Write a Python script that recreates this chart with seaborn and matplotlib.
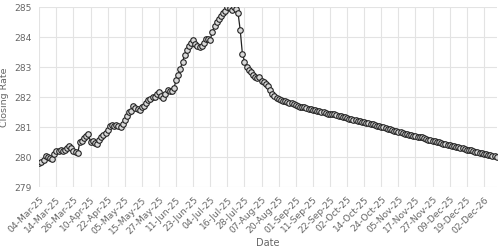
import matplotlib
matplotlib.use("Agg")
import matplotlib.pyplot as plt
import seaborn as sns
import pandas as pd
import numpy as np

tick_labels = ["04-Mar-25", "14-Mar-25", "26-Mar-25", "10-Apr-25", "22-Apr-25", "05-May-25",
               "15-May-25", "27-May-25", "11-Jun-25", "23-Jun-25", "04-Jul-25", "16-Jul-25",
               "28-Jul-25", "07-Aug-25", "20-Aug-25", "01-Sep-25", "11-Sep-25", "22-Sep-25",
               "02-Oct-25", "14-Oct-25", "24-Oct-25", "05-Nov-25", "17-Nov-25", "27-Nov-25",
               "09-Dec-25", "19-Dec-25", "02-Dec-26"]

rate_spring = [279.80, 279.85, 279.90, 280.05, 280.02, 279.98, 279.96, 280.12, 280.20, 280.22,
               280.25, 280.22, 280.26, 280.30, 280.38, 280.32, 280.22, 280.16, 280.14, 280.52,
               280.54, 280.64, 280.72, 280.78, 280.50, 280.56, 280.48, 280.46, 280.58, 280.68,
               280.74, 280.82, 280.92, 281.05, 281.08, 281.06, 281.08, 281.04, 281.00, 281.12,
               281.25, 281.38, 281.50, 281.56, 281.70, 281.64, 281.60, 281.58, 281.66, 281.70,
               281.80, 281.90, 281.95, 282.02, 282.00, 282.10, 282.19, 282.05, 281.97, 282.10,
               282.24, 282.20, 282.22, 282.30]
rate_summer = [282.58, 282.74, 282.96, 283.19, 283.41, 283.58, 283.70, 283.80, 283.90, 283.78,
               283.72, 283.68, 283.72, 283.82, 283.94, 283.96, 283.92, 284.19, 284.38, 284.50,
               284.60, 284.72, 284.80, 284.88, 285.00, 284.98, 284.91, 285.00, 284.96, 284.80,
               284.24, 283.46, 283.19, 283.02, 282.92, 282.85, 282.74, 282.67, 282.64, 282.69,
               282.55, 282.50, 282.46, 282.36, 282.24, 282.12, 282.04]
rate_autumn = [281.97, 281.94, 281.92, 281.89, 281.87, 281.85, 281.82, 281.80, 281.77, 281.75,
               281.72, 281.69, 281.68, 281.66, 281.64, 281.62, 281.61, 281.59, 281.57, 281.55,
               281.53, 281.52, 281.50, 281.48, 281.46, 281.44, 281.44, 281.45, 281.42, 281.39,
               281.37, 281.35, 281.33, 281.31, 281.28, 281.27, 281.25, 281.23, 281.22, 281.20,
               281.18, 281.16, 281.15, 281.13, 281.11, 281.10, 281.08, 281.06, 281.04, 281.02,
               281.00, 280.98, 280.95, 280.93, 280.91, 280.89, 280.87, 280.85, 280.83, 280.81,
               280.79, 280.77, 280.76, 280.74, 280.72, 280.70, 280.69, 280.69, 280.66, 280.63,
               280.61, 280.59, 280.57, 280.55, 280.53, 280.51, 280.50, 280.48, 280.46, 280.44,
               280.42, 280.41, 280.39, 280.37, 280.35, 280.33, 280.31, 280.30, 280.28, 280.26,
               280.24, 280.23, 280.21, 280.19, 280.17, 280.15, 280.14, 280.12, 280.10, 280.09,
               280.07, 280.05, 280.04, 280.02]

rates = rate_spring + rate_summer + rate_autumn
df = pd.DataFrame({"idx": np.arange(len(rates)), "rate": rates})

sns.set_theme(style="whitegrid")
plt.rcParams['font.family'] = ['DejaVu Sans']

fig = plt.figure(figsize=(5, 2.5), dpi=100)
ax = fig.add_axes([0.0786, 0.2508, 0.9148, 0.7200])

sns.lineplot(data=df, x="idx", y="rate", ax=ax, color="#222222", linewidth=0.9,
             marker="o", markersize=4.0, markerfacecolor="#d9d9d9",
             markeredgecolor="#222222", markeredgewidth=0.8)

ax.set_xlim(0, len(rates) - 1)
ax.set_ylim(279, 285)
ax.set_yticks([279, 280, 281, 282, 283, 284, 285])
step = 8
ax.set_xticks(np.arange(0, step * len(tick_labels), step))
ax.set_xticklabels(tick_labels, rotation=45, ha="right", rotation_mode="anchor")

grid_c = "#e3e3e3"
ax.grid(True, color=grid_c, linewidth=0.8)
for s in ax.spines.values():
    s.set_visible(False)
ax.tick_params(axis="both", which="both", length=4, width=0.8, color=grid_c,
               labelsize=6.6, labelcolor="#666666", pad=1.5)
ax.set_xlabel("Date", fontsize=7, color="#666666", labelpad=2)
ax.set_ylabel("Closing Rate", fontsize=6.8, color="#666666")
ax.yaxis.set_label_coords(-0.066, 0.5)

fig.savefig("out.png", dpi=100)
